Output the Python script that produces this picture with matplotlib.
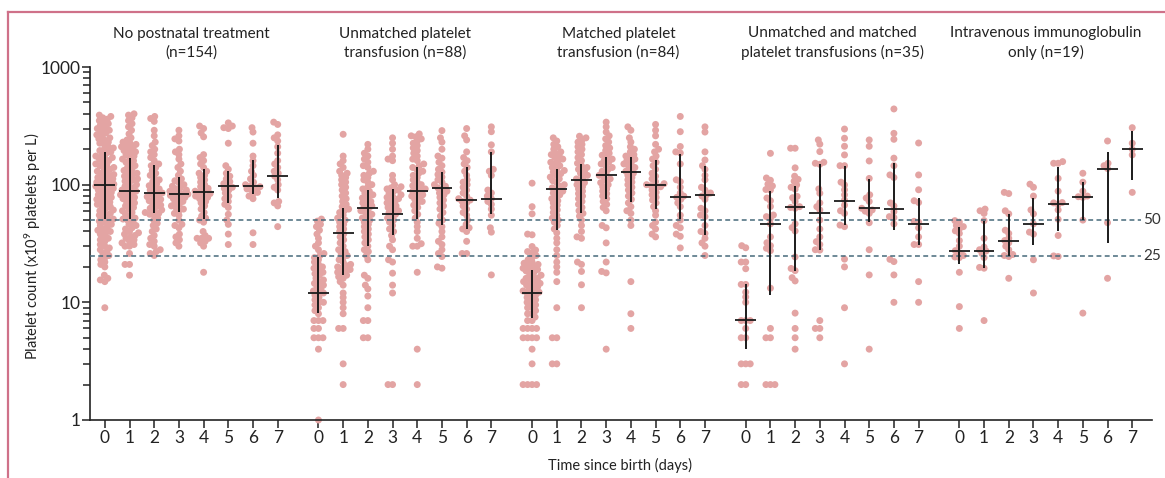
import numpy as np
import matplotlib
matplotlib.use("Agg")
import matplotlib.pyplot as plt
from matplotlib.lines import Line2D
from matplotlib.transforms import blended_transform_factory

plt.rcParams['font.family'] = ['Lato', 'DejaVu Sans']
plt.rcParams['mathtext.fontset'] = 'custom'
plt.rcParams['mathtext.rm'] = 'Lato'
plt.rcParams['mathtext.it'] = 'Lato:italic'

# ---------------- data ----------------
group_titles = ["No postnatal treatment\n(n=154)",
                "Unmatched platelet\ntransfusion (n=88)",
                "Matched platelet\ntransfusion (n=84)",
                "Unmatched and matched\nplatelet transfusions (n=35)",
                "Intravenous immunoglobulin\nonly (n=19)"]
days = [0, 1, 2, 3, 4, 5, 6, 7]
day_labels = ["0", "1", "2", "3", "4", "5", "6", "7"]

# Group 1: no postnatal treatment
g1_d0 = [390, 380, 370, 360, 350, 340, 330, 320, 310, 300, 290, 285, 275, 265, 260, 250, 245, 240, 230, 225,
         220, 210, 205, 200, 195, 190, 185, 180, 175, 170, 168, 165, 160, 155, 150, 148, 145, 140, 138, 135,
         130, 128, 125, 122, 120, 118, 115, 112, 110, 108, 105, 103, 101, 100, 99, 97, 95, 93, 91, 90, 88, 86,
         84, 82, 80, 78, 76, 75, 73, 71, 70, 68, 66, 65, 63, 61, 60, 58, 57, 55, 54, 52, 51, 50, 49, 48, 46, 45,
         44, 42, 41, 40, 39, 38, 36, 35, 34, 33, 31, 30, 29, 28, 27, 26, 25, 24, 23, 22, 21, 20, 17, 16, 15.5,
         15, 9]
g1_d1 = [400, 390, 370, 350, 330, 310, 290, 270, 250, 240, 230, 225, 220, 215, 210, 205, 200, 195, 190, 185,
         180, 175, 170, 165, 160, 155, 150, 145, 140, 136, 132, 128, 125, 122, 118, 115, 112, 110, 107, 104,
         100, 97, 94, 92, 90, 88, 86, 84, 82, 80, 78, 76, 74, 72, 70, 68, 66, 64, 62, 60, 58, 56, 54, 52, 51,
         50, 48, 46, 45, 43, 42, 40, 39, 38, 37, 36, 35, 34, 33, 32, 31, 30, 30, 26, 21, 21, 17]
g1_d2 = [380, 365, 345, 290, 260, 230, 215, 200, 190, 180, 170, 160, 150, 145, 140, 132, 125, 120, 115, 110,
         106, 102, 98, 95, 92, 90, 87, 85, 83, 81, 79, 77, 75, 73, 71, 69, 67, 65, 63, 61, 60, 58, 57, 56, 55,
         52, 50, 47, 45, 42, 40, 37, 35, 33, 31, 30, 28, 27, 26, 25]
g1_d3 = [290, 260, 245, 235, 200, 190, 180, 165, 150, 140, 130, 120, 112, 108, 104, 100, 97, 94, 92, 90, 88,
         86, 85, 84, 83, 82, 81, 80, 78, 76, 74, 72, 70, 68, 66, 64, 62, 60, 57, 55, 50, 46, 45, 43, 38, 36,
         34, 32, 30]
g1_d4 = [315, 300, 275, 255, 180, 170, 160, 150, 140, 130, 125, 120, 115, 110, 105, 100, 96, 93, 90, 88, 86,
         84, 82, 80, 78, 76, 72, 70, 66, 62, 58, 54, 52, 50, 48, 40, 37, 35, 35, 35, 33, 32, 30, 18]
g1_d5 = [335, 315, 305, 300, 225, 145, 135, 125, 118, 112, 106, 102, 98, 95, 93, 90, 85, 80, 76, 72, 68, 64,
         56, 50, 46, 38, 31]
g1_d6 = [305, 280, 225, 175, 160, 145, 130, 120, 112, 105, 100, 98, 96, 94, 92, 90, 86, 83, 80, 76, 39, 31]
g1_d7 = [340, 325, 265, 250, 235, 210, 185, 160, 150, 140, 130, 125, 118, 110, 100, 95, 90, 72, 70, 66, 44]

# Group 2: unmatched platelet transfusion
g2_d0 = [51, 49, 46, 44, 41, 38, 35, 32, 30, 28, 26, 25, 24, 23, 22, 21, 20, 19.5, 19, 18, 17.5, 17, 16, 15.5,
         15, 14.5, 14, 13.5, 13, 12.5, 12, 12, 11.5, 11, 10.5, 10, 10, 9.5, 9, 8.5, 8, 7, 7, 7, 6, 6, 5, 5, 5,
         4, 1]
g2_d1 = [268, 175, 160, 150, 140, 130, 125, 120, 115, 110, 105, 100, 95, 90, 85, 80, 76, 72, 68, 65, 62, 60,
         58, 55, 52, 50, 48, 46, 44, 42, 40, 38, 36, 34, 32, 30, 28, 27, 26, 25, 24, 23, 22, 21, 20.5, 20,
         19.5, 19, 18.5, 18, 17.5, 17, 16.5, 16, 15, 14, 12, 11, 10, 9, 8, 6, 6, 3, 2]
g2_d2 = [220, 200, 185, 175, 165, 155, 145, 140, 130, 125, 120, 115, 110, 105, 100, 96, 92, 88, 85, 82, 80, 77,
         74, 72, 70, 68, 66, 64, 62, 60, 58, 56, 54, 52, 50, 48, 46, 44, 42, 40, 38, 36, 34, 32, 30, 28, 27,
         25, 23, 17, 16, 14, 13, 11.3, 9, 7, 7, 5, 5]
g2_d3 = [250, 225, 200, 175, 165, 160, 120, 110, 100, 96, 94, 92, 90, 88, 85, 82, 80, 78, 76, 74, 72, 70, 68,
         66, 64, 62, 60, 58, 56, 54, 52, 50, 48, 45, 42, 40, 37, 34, 30, 28, 23, 22, 17.7, 14, 12, 2, 2]
g2_d4 = [270, 260, 255, 245, 235, 225, 215, 205, 195, 185, 175, 165, 160, 150, 145, 140, 135, 130, 125, 120,
         115, 110, 105, 100, 98, 95, 92, 90, 88, 85, 82, 80, 78, 75, 72, 70, 67, 64, 60, 56, 52, 48, 44, 40,
         35, 31.5, 30, 30, 18, 4, 2]
g2_d5 = [288, 250, 230, 200, 175, 168, 155, 145, 135, 128, 122, 116, 110, 105, 100, 97, 94, 91, 88, 85, 82,
         78, 74, 70, 66, 62, 58, 54, 50, 47, 44, 40, 36, 33, 31, 28, 26, 24.5, 20, 19.5]
g2_d6 = [300, 260, 240, 190, 170, 160, 150, 140, 130, 120, 110, 105, 100, 95, 90, 85, 80, 76, 74, 72, 70, 66,
         62, 58, 55, 50, 46, 43, 42, 40, 33, 26, 26]
g2_d7 = [310, 282, 218, 190, 135, 130, 120, 90, 85, 80, 76, 72, 68, 62, 55, 43, 39.5, 17.1]

# Group 3: matched platelet transfusion
g3_d0 = [103, 65, 56.5, 38, 37.5, 29.8, 27.8, 27, 26.3, 25, 24, 23, 22, 21.5, 21, 20.5, 20, 19.5, 19, 19, 18.5,
         18, 17.5, 17, 16.5, 16, 16, 15.5, 15, 15, 14.5, 14, 14, 13.5, 13, 13, 12.5, 12.2, 12, 12, 11.5, 11,
         11, 10.5, 10, 10, 9.5, 9, 9, 8.5, 8, 8, 7.5, 7, 7, 6, 6, 6, 6, 5, 5, 5, 5, 4, 3, 2, 2, 2, 2]
g3_d1 = [250, 235, 220, 210, 200, 190, 185, 180, 175, 170, 165, 160, 155, 150, 145, 140, 136, 132, 128, 124,
         120, 116, 112, 108, 104, 100, 97, 94, 91, 88, 85, 82, 79, 76, 73, 70, 67, 64, 61, 58, 55, 52, 50, 48,
         45, 42, 39, 35, 32, 28, 25, 22, 20, 18, 15, 9, 5, 5, 3, 3]
g3_d2 = [258, 250, 240, 230, 220, 210, 200, 190, 180, 170, 160, 152, 145, 140, 135, 130, 125, 120, 116, 112,
         108, 104, 100, 96, 92, 88, 84, 80, 76, 72, 68, 64, 60, 57, 54, 50, 45, 40, 36, 35, 22, 21, 18.3,
         14.1, 9]
g3_d3 = [340, 310, 280, 260, 245, 230, 215, 205, 195, 185, 178, 172, 165, 160, 155, 150, 145, 140, 135, 130,
         125, 120, 116, 112, 108, 104, 100, 96, 92, 88, 84, 80, 76, 72, 68, 64, 60, 45, 43, 32, 22, 18.3,
         17.8, 4]
g3_d4 = [310, 290, 250, 230, 210, 200, 190, 180, 175, 170, 165, 160, 155, 150, 145, 140, 135, 130, 125, 120,
         115, 110, 105, 100, 95, 90, 85, 80, 75, 70, 65, 60, 57, 50, 45, 15, 8, 6]
g3_d5 = [325, 290, 260, 220, 200, 190, 175, 165, 155, 145, 135, 125, 118, 112, 106, 102, 100, 98, 96, 94, 90,
         86, 82, 78, 74, 70, 65, 60, 55, 48, 45, 42, 38, 36]
g3_d6 = [380, 282, 211, 190, 186, 150, 110, 106, 95, 85, 80, 78, 75, 70, 65, 55, 50, 45, 43, 38, 36.4, 29]
g3_d7 = [310, 280, 190, 162, 145, 135, 120, 110, 95, 90, 85, 82, 80, 75, 63, 60, 55, 53.5, 45, 40, 38.5, 35,
         32, 30, 25]

# Group 4: unmatched and matched platelet transfusions
g4_d0 = [30.3, 29.1, 22, 22, 19.3, 14.2, 14.2, 12.2, 11.1, 10, 7, 7, 7, 6, 5, 5, 3, 3, 3, 2, 2]
g4_d1 = [184.6, 114, 109, 101, 97.5, 91, 90, 77, 73, 65.2, 55.2, 53.5, 51.6, 46.4, 36, 32.1, 30.3, 28.8, 27.5,
         13.2, 6, 5, 5, 2, 2, 2]
g4_d2 = [204, 204, 139, 118, 111, 107, 99.5, 95, 91.5, 79.5, 77.5, 72, 65, 64, 63, 46.4, 43.2, 40.4, 24.3,
         19.4, 18.6, 16.2, 15.2, 8.1, 6, 5, 4]
g4_d3 = [240, 221, 191, 155, 152, 149, 92, 84.5, 70, 65, 61, 50, 42, 36, 32.8, 31, 28, 27.8, 7, 6, 6, 5]
g4_d4 = [297, 248, 212, 179, 145, 145, 105, 99.5, 90.5, 82, 74, 67, 60, 57, 45.3, 44, 23.3, 20, 9, 3]
g4_d5 = [240, 212, 159, 113, 82, 77, 72, 63, 61, 59.5, 57, 47.5, 28, 17.1, 4]
g4_d6 = [440, 273, 243, 168, 145, 121, 115, 70, 66, 59, 53.5, 52.5, 46.4, 23.2, 22.2, 17.1, 10]
g4_d7 = [226, 121, 90.5, 73, 70.5, 48.8, 48, 43, 36, 31, 31, 15, 10]

# Group 5: intravenous immunoglobulin only
g5_d0 = [49.5, 48, 45, 44, 42, 40.5, 38.5, 33.5, 30, 27.5, 26.3, 25, 24.3, 24, 18, 9.2, 6]
g5_d1 = [62, 60, 57, 49.5, 35, 29.5, 28, 27.3, 26, 24, 19.8, 19.5, 7]
g5_d2 = [86, 84, 60, 56.5, 41, 38.5, 35, 33.5, 32, 30, 28, 25.5, 25, 24.5, 16]
g5_d3 = [101, 95, 80, 61, 56.5, 46.4, 39.5, 38, 23, 12]
g5_d4 = [157, 152, 152, 113, 88, 70.5, 70, 68, 61, 50.8, 37, 24.8, 24.5]
g5_d5 = [125, 105, 88, 80, 79, 78, 50, 8.1]
g5_d6 = [235, 152, 145, 137, 47.5, 16]
g5_d7 = [305, 225, 200, 179, 86]

groups = [
    [g1_d0, g1_d1, g1_d2, g1_d3, g1_d4, g1_d5, g1_d6, g1_d7],
    [g2_d0, g2_d1, g2_d2, g2_d3, g2_d4, g2_d5, g2_d6, g2_d7],
    [g3_d0, g3_d1, g3_d2, g3_d3, g3_d4, g3_d5, g3_d6, g3_d7],
    [g4_d0, g4_d1, g4_d2, g4_d3, g4_d4, g4_d5, g4_d6, g4_d7],
    [g5_d0, g5_d1, g5_d2, g5_d3, g5_d4, g5_d5, g5_d6, g5_d7],
]

# medians and interquartile ranges
median = [[100, 89, 85, 83, 87, 97.5, 97, 118],
          [12.1, 39, 63, 56.8, 88, 93, 74, 75],
          [12.1, 91.5, 109, 120, 127, 100, 79, 81.5],
          [7.05, 46.4, 64, 58, 72, 63.3, 62, 46],
          [27.3, 27.3, 33.5, 46.4, 68, 79, 137, 201]]
q1 = [[51, 51.5, 57, 59, 51, 70, 83, 77],
      [8.1, 17, 30, 37, 51, 45, 42, 56],
      [7.3, 41.5, 58, 75, 71, 62, 51, 37],
      [4.0, 11.5, 18.6, 28, 45, 48, 41, 31],
      [21, 19.6, 25, 31, 40.6, 50.5, 32, 110]]
q3 = [[190, 168, 146, 116, 135, 131, 162, 216],
      [24.3, 63, 90, 92, 142, 128, 140, 190],
      [19, 136, 151, 172, 171, 161, 182, 145],
      [14.4, 89, 97.5, 149, 144, 112, 152, 77],
      [44, 49, 56, 77, 141, 105, 190, 284]]

thresholds = [50, 25]
threshold_labels = ["50", "25"]

# ---------------- layout ----------------
W, H = 1165, 478
fig = plt.figure(figsize=(W / 100, H / 100), dpi=100)
ax_l, ax_r, ax_t, ax_b = 90, 1152, 67, 420
ax = fig.add_axes([ax_l / W, 1 - ax_b / H, (ax_r - ax_l) / W, (ax_b - ax_t) / H])

GROUP_STEP = 8.65
XMIN, XMAX = -0.6, 42.4
ax.set_xlim(XMIN, XMAX)
ax.set_yscale('log')
ax.set_ylim(1, 1000)

px_per_unit = (ax_r - ax_l) / (XMAX - XMIN)
px_per_dec = (ax_b - ax_t) / 3.0

DOT = '#e3a4a3'


def swarm_offsets(vals, d=4.4, maxw=9.0, step=0.5):
    ys = np.log10(np.asarray(vals, float)) * px_per_dec
    order = np.argsort(ys)
    cands = sorted(np.arange(-maxw, maxw + 1e-9, step), key=lambda c: (abs(c), c))
    px, py = [], []
    offs = np.zeros(len(ys))
    for i in order:
        y = ys[i]
        pxa, pya = np.array(px), np.array(py)
        if len(pxa):
            near = np.abs(pya - y) < d
            nx, ny = pxa[near], pya[near]
        else:
            nx, ny = np.array([]), np.array([])
        chosen, bestc, bestd = None, 0.0, -1
        for c in cands:
            dist = np.min(np.hypot(nx - c, ny - y)) if len(nx) else np.inf
            if dist >= d:
                chosen = c
                break
            if dist > bestd:
                bestd, bestc = dist, c
        if chosen is None:
            chosen = bestc
        offs[i] = chosen
        px.append(chosen)
        py.append(y)
    return offs / px_per_unit


xticks, xlabels = [], []
for g, gdata in enumerate(groups):
    for d, vals in zip(days, gdata):
        x = g * GROUP_STEP + d
        xticks.append(x)
        xlabels.append(day_labels[d])
        offs = swarm_offsets(vals)
        ax.scatter(x + offs, vals, s=25, color=DOT, edgecolors='none', zorder=2, clip_on=False)
        ax.vlines(x, q1[g][d], q3[g][d], color='#1b1b1b', lw=1.4, zorder=4)
        ax.hlines(median[g][d], x - 0.42, x + 0.42, color='#1b1b1b', lw=1.3, zorder=4)

# threshold lines
xend = (1141 - ax_l) / px_per_unit + XMIN
for t, lab in zip(thresholds, threshold_labels):
    ax.plot([XMIN, xend], [t, t], color='#46697a', lw=1.1, ls=(0, (3.2, 2.2)), zorder=3)
    ax.text(xend + 0.1, t, lab, fontsize=11, color='#333333', va='center', ha='left', clip_on=False)

# axes styling
for s in ['top', 'right']:
    ax.spines[s].set_visible(False)
for s in ['left', 'bottom']:
    ax.spines[s].set_linewidth(1.2)
    ax.spines[s].set_color('#222222')

ax.set_yticks([1, 10, 100, 1000])
ax.set_yticklabels(['1', '10', '100', '1000'])
ax.yaxis.set_minor_locator(matplotlib.ticker.LogLocator(base=10, subs=np.arange(2, 10)))
ax.yaxis.set_minor_formatter(matplotlib.ticker.NullFormatter())
ax.tick_params(axis='y', which='major', length=6, width=1.1, labelsize=12.5, pad=1, colors='#222222')
ax.tick_params(axis='y', which='minor', length=5, width=1.1, colors='#222222')
ax.set_xticks(xticks)
ax.set_xticklabels(xlabels)
ax.tick_params(axis='x', which='major', length=5.5, width=1.1, labelsize=12.5, pad=2, colors='#222222')
ax.tick_params(axis='x', which='minor', length=0)

# group titles
trans = blended_transform_factory(ax.transData, fig.transFigure)
for g, title in enumerate(group_titles):
    ax.text(g * GROUP_STEP + 3.5, 1 - 43 / H, title, transform=trans, ha='center', va='center',
            fontsize=11, color='#222222', linespacing=1.4)

fig.text(33 / W, 1 - 246 / H, r'Platelet count (x10$^{9}$ platelets per L)', rotation=90,
         ha='center', va='center', fontsize=10.5, color='#222222')
fig.text(620 / W, 1 - 465 / H, 'Time since birth (days)', ha='center', va='center',
         fontsize=10.5, color='#222222')

# journal frame
FRAME = '#cf7189'
fig.add_artist(Line2D([8 / W, 8 / W], [0, 1 - 12 / H], color=FRAME, lw=1.6, transform=fig.transFigure))
fig.add_artist(Line2D([8 / W, 1], [1 - 12 / H, 1 - 12 / H], color=FRAME, lw=1.6, transform=fig.transFigure))

fig.savefig('out.png', dpi=100)
